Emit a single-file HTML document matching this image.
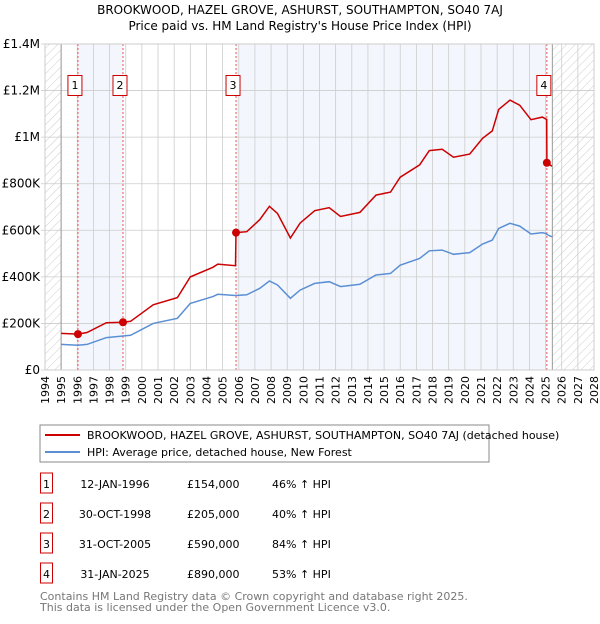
<!DOCTYPE html>
<html><head><meta charset="utf-8"><style>
body{margin:0;background:#fff;font-family:"DejaVu Sans","Liberation Sans",sans-serif;}
svg text{font-family:"DejaVu Sans","Liberation Sans",sans-serif;}
</style></head><body>
<svg id="c" width="600" height="620" xmlns="http://www.w3.org/2000/svg">
<defs><pattern id="hatch" patternUnits="userSpaceOnUse" width="6" height="6" patternTransform="rotate(45)"><line x1="0" y1="0" x2="0" y2="6" stroke="#ccc" stroke-width="1"/></pattern></defs>
<text x="300" y="14" text-anchor="middle" font-size="12">BROOKWOOD, HAZEL GROVE, ASHURST, SOUTHAMPTON, SO40 7AJ</text>
<text x="300" y="30" text-anchor="middle" font-size="12">Price paid vs. HM Land Registry's House Price Index (HPI)</text>
<g id="plot"></g>
<rect x="40" y="425" width="449" height="37" fill="#fff" stroke="#888"/>
<line x1="45" y1="435" x2="80" y2="435" stroke="#cc0000" stroke-width="2"/>
<text x="87" y="439" font-size="11">BROOKWOOD, HAZEL GROVE, ASHURST, SOUTHAMPTON, SO40 7AJ (detached house)</text>
<line x1="45" y1="452" x2="80" y2="452" stroke="#5b8fd4" stroke-width="2"/>
<text x="87" y="456" font-size="11">HPI: Average price, detached house, New Forest</text>
<g id="table" font-size="11"></g>
<text x="40" y="600" font-size="11" fill="#777">Contains HM Land Registry data © Crown copyright and database right 2025.</text>
<text x="40" y="611" font-size="11" fill="#777">This data is licensed under the Open Government Licence v3.0.</text>
</svg>
<script>
const dates=[1995.0,1996.04,1996.6,1997.8,1998.83,1999.3,2000.7,2002.2,2003.0,2004.4,2004.7,2005.8,2005.83,2006.5,2007.3,2007.9,2008.4,2009.2,2009.8,2010.7,2011.6,2012.3,2013.5,2014.5,2015.4,2016.0,2017.2,2017.8,2018.6,2019.3,2020.3,2021.1,2021.7,2022.1,2022.8,2023.4,2024.1,2024.8,2025.07,2025.08,2025.4];
const hpiValues=[110,106,110,139,146,149,200,222,286,315,325,320,320,323,351,382,365,308,343,372,379,358,368,408,415,450,479,512,515,497,504,541,558,608,630,618,584,590,585,582,572];
const propertyValues=[157,154,161,203,205,209,280,311,400,441,455,448,590,594,646,703,672,567,631,684,697,659,677,751,764,828,881,942,948,914,927,995,1027,1119,1159,1137,1075,1086,1076,890,875];
const saleDates=[1996.04,1998.83,2005.83,2025.08];
const salePrices=[154,205,590,890];
const saleLabels=["12-JAN-1996","30-OCT-1998","31-OCT-2005","31-JAN-2025"];
const salePriceText=["£154,000","£205,000","£590,000","£890,000"];
const saleHpiText=["46% ↑ HPI","40% ↑ HPI","84% ↑ HPI","53% ↑ HPI"];
const yTicks=[0,200,400,600,800,1000,1200,1400];
const yTickLabels=["£0","£200K","£400K","£600K","£800K","£1M","£1.2M","£1.4M"];
const years=[];for(let y=1994;y<=2028;y++)years.push(y);
const dataEnd=2025.42;

const X0=45,X1=594,Y0=370,Y1=44;
const xs=t=>X0+(t-1994)/(2028-1994)*(X1-X0);
const ys=v=>Y0-v/1400*(Y0-Y1);
const NS="http://www.w3.org/2000/svg";
const g=document.getElementById('plot');
function mk(tag,at,parent){const e=document.createElementNS(NS,tag);for(const k in at)e.setAttribute(k,at[k]);(parent||g).appendChild(e);return e;}

let e;
e=mk('rect',{x:X0,y:Y1,width:X1-X0,height:Y0-Y1,fill:'#fff'});


[[saleDates[0],saleDates[1]],[saleDates[2],saleDates[3]]].forEach((b,i)=>{
 e=mk('rect',{x:xs(b[0]),y:Y1,width:xs(b[1])-xs(b[0]),height:Y0-Y1,fill:'#eef3fc',opacity:0.7});
 
 
});
e=mk('rect',{x:X0,y:Y1,width:xs(1995)-X0,height:Y0-Y1,fill:'url(#hatch)'});


e=mk('rect',{x:xs(dataEnd),y:Y1,width:X1-xs(dataEnd),height:Y0-Y1,fill:'url(#hatch)'});


years.forEach(y=>{e=mk('line',{x1:xs(y),x2:xs(y),y1:Y1,y2:Y0,stroke:'#ccc','stroke-width':0.8});
 
 
 const t=mk('text',{x:0,y:0,'font-size':11,'text-anchor':'end',transform:`translate(${xs(y)+4},${376}) rotate(-90)`});t.textContent=y;
 
 
});
yTicks.forEach((v,i)=>{e=mk('line',{x1:X0-4,x2:X1,y1:ys(v),y2:ys(v),stroke:'#ccc','stroke-width':0.8});
 
 
 const t=mk('text',{x:X0-5,y:ys(v)+4,'font-size':12,'text-anchor':'end'});t.textContent=yTickLabels[i];
 
 
});
e=mk('line',{x1:xs(1995),x2:xs(1995),y1:Y1,y2:Y0,stroke:'#999','stroke-width':1});


e=mk('line',{x1:xs(dataEnd),x2:xs(dataEnd),y1:Y1,y2:Y0,stroke:'#999','stroke-width':1});


saleDates.forEach((d,i)=>{
 e=mk('line',{x1:xs(d),x2:xs(d),y1:Y1,y2:Y0,stroke:'#e55','stroke-width':1,'stroke-dasharray':'2,2'});
 
 
 const r=mk('rect',{x:xs(d)-10,y:75.5,width:14,height:20,fill:'#fff',stroke:'#c00'});
 
 
 const t=mk('text',{x:xs(d)-3,y:89,'font-size':11,'text-anchor':'middle'});t.textContent=i+1;
 
 
});
const path=(vals)=>dates.map((d,i)=>(i?'L':'M')+xs(d).toFixed(1)+','+ys(vals[i]).toFixed(1)).join('');
e=mk('path',{d:path(hpiValues),fill:'none',stroke:'#5b8fd4','stroke-width':1.5});


e=mk('path',{d:path(propertyValues),fill:'none',stroke:'#cc0000','stroke-width':1.5});


saleDates.forEach((d,i)=>{e=mk('circle',{cx:xs(d),cy:ys(salePrices[i]),r:4,fill:'#cc0000'});
 
 
});
e=mk('rect',{x:X0,y:Y1,width:X1-X0,height:Y0-Y1,fill:'none',stroke:'#ccc'});


const tb=document.getElementById('table');
saleLabels.forEach((l,i)=>{const cy=484+i*30;
 e=mk('rect',{x:40.5,y:cy-11,width:12,height:20,fill:'#fff',stroke:'#c00'},tb);
 
 
 let t=mk('text',{x:46.5,y:cy+4,'text-anchor':'middle'},tb);t.textContent=i+1;
 
 
 t=mk('text',{x:115,y:cy+4,'text-anchor':'middle'},tb);t.textContent=l;
 
 
 t=mk('text',{x:187,y:cy+4},tb);t.textContent=salePriceText[i];
 
 
 t=mk('text',{x:272,y:cy+4},tb);t.textContent=saleHpiText[i];
 
 
});
</script>
</body></html>
